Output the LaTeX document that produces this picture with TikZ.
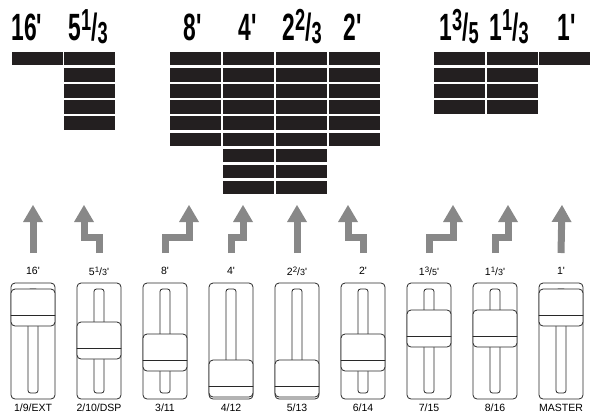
\documentclass[tikz,border=0pt]{standalone}
\usepackage{fontspec}
\setmainfont{Liberation Sans}
\usetikzlibrary{arrows.meta}
\definecolor{bardark}{RGB}{35,31,32}
\definecolor{arrowgrey}{RGB}{136,136,136}
\definecolor{sliderline}{RGB}{40,40,40}
\newcommand\ft{\textquotesingle}
\newcommand\lcd[1]{\scalebox{.6}[1]{#1}}
\newcommand\bigfr[2]{\raisebox{.25em}{\scalebox{.8}{#1}}/\raisebox{-.1em}{\scalebox{.8}{#2}}}
\newcommand\smfr[2]{\raisebox{.3em}{\scalebox{.75}{#1}}/\scalebox{.85}{#2}}
\begin{document}
\begin{tikzpicture}[x=1pt,y=-1pt,line join=round,line cap=round,
	bigdigit/.style={font=\bfseries\fontsize{38}{38}\selectfont,inner sep=0pt,anchor=base},
	footlab/.style={font=\fontsize{10.5}{12}\selectfont,inner sep=1pt},
	lift/.style={draw=arrowgrey,line width=7pt,line cap=butt,line join=miter,
		-{Triangle[width=20pt,length=17pt,line width=0pt]}},
	frame/.style={draw=sliderline,line width=0.8pt,rounded corners=4pt},
	knob/.style={draw=sliderline,fill=white,line width=0.8pt,rounded corners=4pt},
	slot/.style={draw=sliderline,line width=0.8pt,rounded corners=2.5pt}]
	\useasboundingbox (0,0) rectangle (593,418);
	% drawbar display
	\node[bigdigit] (t1) at (27,40) {\lcd{16\ft}};
	\node[bigdigit] (t2) at (88,40) {\lcd{5\bigfr{1}{3}}};
	\node[bigdigit] (t3) at (193,40) {\lcd{8\ft}};
	\node[bigdigit] (t4) at (248,40) {\lcd{4\ft}};
	\node[bigdigit] (t5) at (302,40) {\lcd{2\bigfr{2}{3}}};
	\node[bigdigit] (t6) at (353,40) {\lcd{2\ft}};
	\node[bigdigit] (t7) at (459,40) {\lcd{1\bigfr{3}{5}}};
	\node[bigdigit] (t8) at (509,40) {\lcd{1\bigfr{1}{3}}};
	\node[bigdigit] (t9) at (567,40) {\lcd{1\ft}};
	\foreach \x/\n in {12/1,64/5,170/6,223/9,276/9,329/6,434/4,487/4,539/1}
		\foreach \r in {1,...,\n}
			\fill[bardark] (\x,{52+16.1*(\r-1)}) rectangle ++(50.5,13.4);
	% sliders
	\foreach \c/\k in {33/289,99/322,165/334,231/360,297/360,363/334,429/310,495/310,561/289}{
		\draw[frame] (\c-22,283) rectangle (\c+22,399);
		\draw[slot] (\c-5,289) rectangle (\c+5,393);
		\draw[knob] (\c-22,\k) rectangle (\c+22,\k+37);
		\draw[sliderline,line width=0.8pt] (\c-22,\k+26) -- (\c+22,\k+26);
	}
	\node[footlab] (s1) at (33,271) {16\ft};
	\node[footlab] (s2) at (99,271) {5\smfr{1}{3}\ft};
	\node[footlab] (s3) at (165,271) {8\ft};
	\node[footlab] (s4) at (231,271) {4\ft};
	\node[footlab] (s5) at (297,271) {2\smfr{2}{3}\ft};
	\node[footlab] (s6) at (363,271) {2\ft};
	\node[footlab] (s7) at (429,271) {1\smfr{3}{5}\ft};
	\node[footlab] (s8) at (495,271) {1\smfr{1}{3}\ft};
	\node[footlab] (s9) at (561,271) {1\ft};
	\node[footlab] (n1) at (33,408) {1/9/EXT};
	\node[footlab] (n2) at (99,408) {2/10/DSP};
	\node[footlab] (n3) at (165,408) {3/11};
	\node[footlab] (n4) at (231,408) {4/12};
	\node[footlab] (n5) at (297,408) {5/13};
	\node[footlab] (n6) at (363,408) {6/14};
	\node[footlab] (n7) at (429,408) {7/15};
	\node[footlab] (n8) at (495,408) {8/16};
	\node[footlab] (n9) at (561,408) {MASTER};
	% arrows
	\foreach \i/\t/\h in {1/33/33,2/99/84,3/165/189,4/231/243,5/297/297,6/363/348,7/429/453,8/495/508,9/561/562}{
		\coordinate (tail\i) at (\t,253);
		\coordinate (bend\i) at (\h,237);
		\coordinate (head\i) at (\h,205);
	}
	\foreach \i in {1,5,9}
		\draw[lift] (tail\i) -- (head\i);
	\foreach \i in {2,3,4,6,7,8}
		\draw[lift] (tail\i) |- (bend\i) -- (head\i);
\end{tikzpicture}
\end{document}
